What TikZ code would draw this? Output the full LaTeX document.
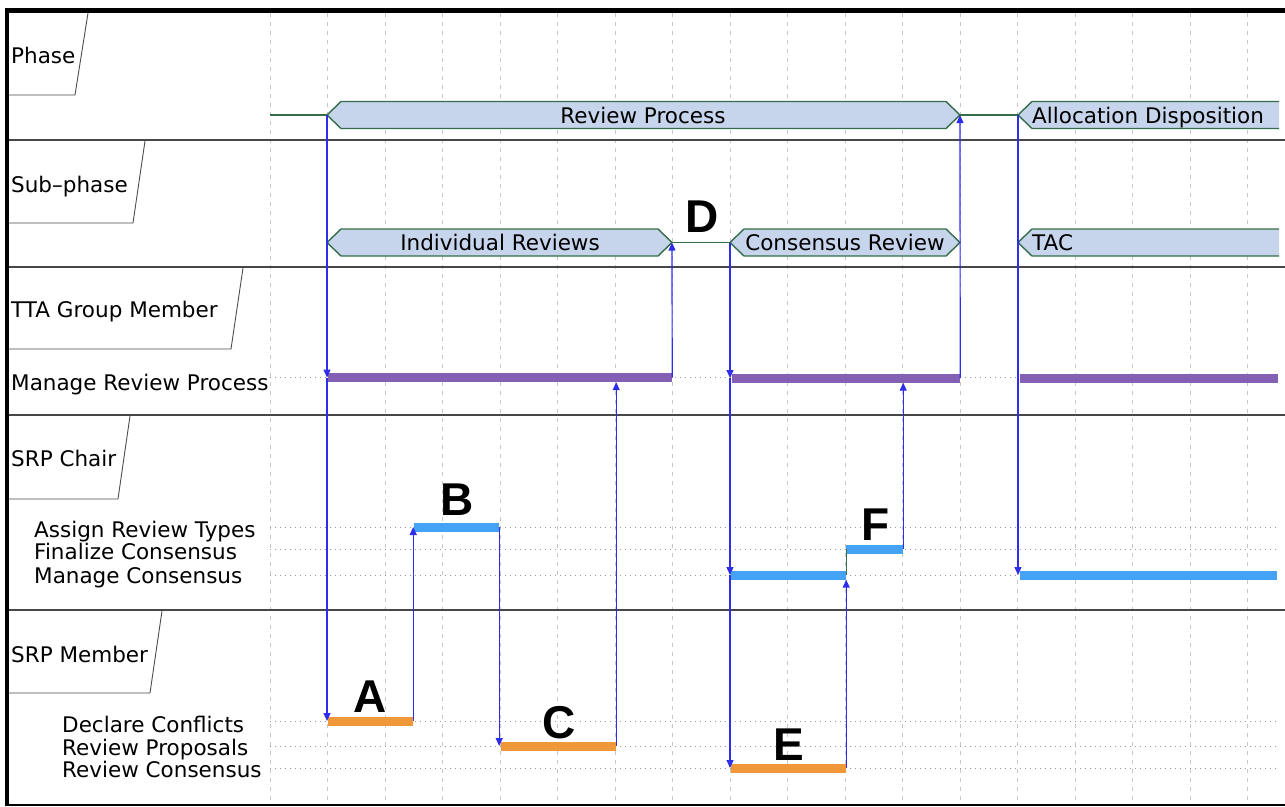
\documentclass[tikz,border=0pt]{standalone}
\usepackage{fontspec}
\setmainfont{DejaVu Sans}
\newfontfamily\letterfont{Liberation Sans}
\usepackage{tikz}
\usetikzlibrary{arrows.meta}

\definecolor{phasefill}{RGB}{198,212,236}
\definecolor{phaseline}{RGB}{52,110,72}
\definecolor{flowblue}{RGB}{45,45,235}
\definecolor{barpurple}{RGB}{132,96,180}
\definecolor{barblue}{RGB}{69,163,245}
\definecolor{barorange}{RGB}{240,151,58}

\newcommand{\hexbar}[2]{\draw[phase] (#1) -- ([shift={(14pt,13.5pt)}]#1) -- ([shift={(-14pt,13.5pt)}]#2) -- (#2) -- ([shift={(-14pt,-13.5pt)}]#2) -- ([shift={(14pt,-13.5pt)}]#1) -- cycle;}

\begin{document}
\begin{tikzpicture}
[every node/.style={inner sep=0pt, font=\fontsize{21.5}{25}\selectfont},
 lane/.style={line width=2.8pt, color=black!72},
 tab/.style={line width=0.9pt, color=black!70},
 grid/.style={line width=0.6pt, color=black!22, dash pattern=on 4pt off 5pt},
 row/.style={line width=0.9pt, color=black!40, dash pattern=on 1pt off 4pt},
 phase/.style={line width=1.4pt, draw=phaseline, fill=phasefill},
 phaselink/.style={line width=1.3pt, color=phaseline},
 flow/.style={line width=1.2pt, color=flowblue, -{Triangle[length=8pt,width=7pt]}},
 bar/.style={rectangle, minimum height=9pt},
 letter/.style={anchor=base, font=\letterfont\bfseries\fontsize{46}{46}\selectfont}]
\useasboundingbox (0pt,0pt) rectangle (1285pt,-806pt);

% grid
\foreach \k in {0,...,17}
  \draw[grid] (270pt+\k*57.5pt,-13pt) -- (270pt+\k*57.5pt,-803pt);
\foreach \y in {377.5,527,549,575,721,746,768}
  \draw[row] (270pt,-\y*1pt) -- (1280pt,-\y*1pt);

% frame and lanes
\draw[line width=5pt] (4.5pt,-10.5pt) -- (1285pt,-10.5pt);
\draw[line width=4.5pt] (7pt,-8pt) -- (7pt,-806pt);
\draw[line width=2pt] (7pt,-804.5pt) -- (1285pt,-804.5pt);
\draw[lane] (9pt,-140pt) -- (1285pt,-140pt);
\draw[lane] (9pt,-267pt) -- (1285pt,-267pt);
\draw[lane] (9pt,-415pt) -- (1285pt,-415pt);
\draw[lane] (9pt,-610pt) -- (1285pt,-610pt);

% lane tabs
\draw[tab] (88pt,-13pt) -- (75pt,-95pt) -- (9pt,-95pt);
\draw[tab] (145pt,-141pt) -- (133pt,-223pt) -- (9pt,-223pt);
\draw[tab] (243pt,-268pt) -- (231pt,-349pt) -- (9pt,-349pt);
\draw[tab] (130pt,-416pt) -- (118pt,-499pt) -- (9pt,-499pt);
\draw[tab] (162pt,-611pt) -- (150pt,-693pt) -- (9pt,-693pt);

\node (phase) [anchor=base west] at (11pt,-63pt) {Phase};
\node (subphase) [anchor=base west] at (11pt,-192pt) {Sub–phase};
\node (tta) [anchor=base west] at (11pt,-317pt) {TTA Group Member};
\node (chair) [anchor=base west] at (11pt,-466pt) {SRP Chair};
\node (member) [anchor=base west] at (11pt,-662pt) {SRP Member};

\node (lmanrev) [anchor=base west] at (11pt,-390pt) {Manage Review Process};
\node (lassign) [anchor=base west] at (34pt,-537pt) {Assign Review Types};
\node (lfinal) [anchor=base west] at (34pt,-559pt) {Finalize Consensus};
\node (lmancons) [anchor=base west] at (34pt,-583pt) {Manage Consensus};
\node (ldeclare) [anchor=base west] at (62pt,-732pt) {Declare Conflicts};
\node (lpropose) [anchor=base west] at (62pt,-755pt) {Review Proposals};
\node (lrevcons) [anchor=base west] at (62pt,-777pt) {Review Consensus};

% phases
\coordinate (t0) at (270pt,-115pt);
\coordinate (revS) at (327pt,-115pt);
\coordinate (revE) at (960pt,-115pt);
\coordinate (allocS) at (1018pt,-115pt);
\coordinate (allocE) at (1320pt,-115pt);
\coordinate (indS) at (327pt,-242.5pt);
\coordinate (indE) at (672pt,-242.5pt);
\coordinate (consS) at (730pt,-242.5pt);
\coordinate (consE) at (960pt,-242.5pt);
\coordinate (tacS) at (1018pt,-242.5pt);
\coordinate (tacE) at (1320pt,-242.5pt);

\draw[phaselink] (t0) -- (revS);
\draw[phaselink] (revE) -- (allocS);
\draw[phaselink] (indE) -- (consS);
\hexbar{revS}{revE}
\hexbar{indS}{indE}
\hexbar{consS}{consE}
\begin{scope}
\clip (0pt,0pt) rectangle (1279pt,-806pt);
\hexbar{allocS}{allocE}
\hexbar{tacS}{tacE}
\end{scope}

\node (trev) [anchor=base] at (643pt,-123pt) {Review Process};
\node (tind) [anchor=base] at (500pt,-250pt) {Individual Reviews};
\node (tcons) [anchor=base] at (845pt,-250pt) {Consensus Review};
\node (talloc) [anchor=base west] at (1032pt,-123pt) {Allocation Disposition};
\node (ttac) [anchor=base west] at (1032pt,-250pt) {TAC};

% activity bars
\node (review1) [bar, fill=barpurple, minimum width=344pt] at (500pt,-377.5pt) {};
\node (review2) [bar, fill=barpurple, minimum width=228pt] at (846pt,-378pt) {};
\node (review3) [bar, fill=barpurple, minimum width=258pt] at (1149pt,-378pt) {};
\node (assign) [bar, fill=barblue, minimum width=85pt] at (456.5pt,-527pt) {};
\node (finalize) [bar, fill=barblue, minimum width=57pt] at (874.5pt,-549pt) {};
\node (consensus1) [bar, fill=barblue, minimum width=115pt] at (788.5pt,-575pt) {};
\node (consensus2) [bar, fill=barblue, minimum width=257pt] at (1148.5pt,-575pt) {};
\node (declare) [bar, fill=barorange, minimum width=85pt] at (370.5pt,-721pt) {};
\node (proposals) [bar, fill=barorange, minimum width=115pt] at (558.5pt,-746pt) {};
\node (revcons) [bar, fill=barorange, minimum width=115pt] at (788.5pt,-768pt) {};

% flow
\draw[flow] (revS) -- (revS |- review1.west);
\draw[flow] (revS |- review1.west) -- (revS |- declare.west);
\draw[flow] (declare.east) -- (declare.east |- assign.west);
\draw[flow] (assign.east) -- (assign.east |- proposals.west);
\draw[flow] (proposals.east) -- (proposals.east |- review1.south);
\draw[flow] (review1.east) -- (indE);
\draw[flow] (consS) -- (consS |- review2.west);
\draw[flow] (consS |- review2.west) -- (consS |- consensus1.west);
\draw[flow] (consS |- consensus1.west) -- (consS |- revcons.west);
\draw[flow] (revcons.east) -- (revcons.east |- consensus1.south);
\draw[phaselink, line width=0.9pt] (consensus1.east) -- (consensus1.east |- finalize.west);
\draw[flow] (finalize.east) -- (finalize.east |- review2.south);
\draw[flow] (review2.east) -- (revE);
\draw[flow] (allocS) -- (allocS |- consensus2.west);

% markers
\node (mA) [letter] at (370pt,-712pt) {A};
\node (mB) [letter] at (457pt,-515pt) {B};
\node (mC) [letter] at (559pt,-738pt) {C};
\node (mD) [letter] at (702pt,-232pt) {D};
\node (mE) [letter] at (789pt,-760pt) {E};
\node (mF) [letter] at (876pt,-540pt) {F};
\end{tikzpicture}
\end{document}
